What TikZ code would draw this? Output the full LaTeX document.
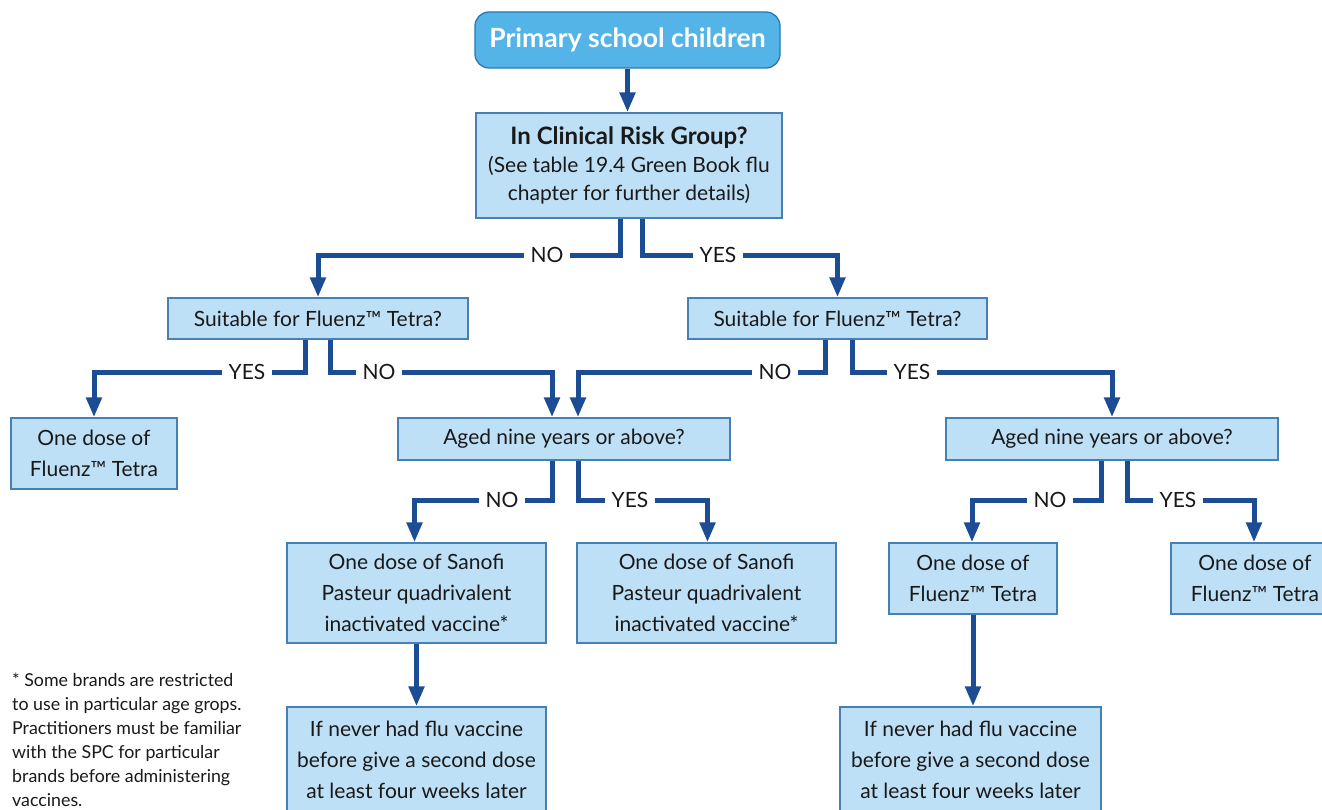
\documentclass[tikz,border=0pt]{standalone}
\usepackage{fontspec}
\setmainfont{Lato}
\usetikzlibrary{arrows.meta,calc}
\definecolor{topfill}{RGB}{84,180,232}
\definecolor{topdraw}{RGB}{40,120,180}
\definecolor{boxfill}{RGB}{190,224,247}
\definecolor{boxdraw}{RGB}{70,128,180}
\definecolor{arrcol}{RGB}{28,76,148}
\definecolor{txtcol}{RGB}{25,25,25}
\tikzset{
  box/.style={draw=boxdraw, fill=boxfill, line width=1.3pt, inner sep=0pt, align=center,
    text=txtcol, font=\fontsize{21}{31}\selectfont},
  topbox/.style={draw=topdraw, fill=topfill, line width=1.3pt, rounded corners=14pt, inner sep=0pt,
    align=center, text=white, font=\fontsize{26.5}{30}\selectfont\bfseries},
  arr/.style={draw=arrcol, line width=5pt, line join=miter, -{Triangle[length=20pt,width=15pt]}},
  lab/.style={fill=white, inner xsep=7pt, inner ysep=2pt, text=txtcol, font=\fontsize{21}{25}\selectfont},
  note/.style={align=left, inner sep=0pt, text=txtcol, font=\fontsize{17.8}{24}\selectfont}
}
\begin{document}
\begin{tikzpicture}[x=1pt,y=-1pt]
\useasboundingbox (0,0) rectangle (1322,810);
\clip (0,0) rectangle (1322,810);
% nodes
\node[topbox, minimum width=305pt, minimum height=56pt] (top) at (627.5,40) {Primary school children};
\node[box, minimum width=306pt, minimum height=105pt, font=\fontsize{21}{28}\selectfont] (crg) at (629,165.5)
  {{\fontsize{24}{28}\selectfont\bfseries In Clinical Risk Group?}\\(See table 19.4 Green Book flu\\chapter for further details)\rule[-4pt]{0pt}{1pt}};
\node[box, minimum width=300pt, minimum height=41pt] (suitL) at (318,318.5) {Suitable for Fluenz™ Tetra?};
\node[box, minimum width=299pt, minimum height=41pt] (suitR) at (837.5,318.5) {Suitable for Fluenz™ Tetra?};
\node[box, minimum width=166pt, minimum height=71pt] (oneL) at (94,453.5) {One dose of\\Fluenz™ Tetra};
\node[box, minimum width=332pt, minimum height=42pt] (agedL) at (564,439) {Aged nine years or above?};
\node[box, minimum width=332pt, minimum height=42pt] (agedR) at (1112,439) {Aged nine years or above?};
\node[box, minimum width=259pt, minimum height=100pt] (san1) at (416.5,593)
  {One dose of Sanofi\\Pasteur quadrivalent\\inactivated vaccine*};
\node[box, minimum width=259pt, minimum height=100pt] (san2) at (706.5,593)
  {One dose of Sanofi\\Pasteur quadrivalent\\inactivated vaccine*};
\node[box, minimum width=168pt, minimum height=71pt] (fluR1) at (973,578.5) {One dose of\\Fluenz™ Tetra};
\node[box, minimum width=168pt, minimum height=71pt] (fluR2) at (1255,578.5) {One dose of\\Fluenz™ Tetra};
\node[box, minimum width=259pt, minimum height=106pt] (nev1) at (416.5,760)
  {If never had flu vaccine\\before give a second dose\\at least four weeks later};
\node[box, minimum width=261pt, minimum height=106pt] (nev2) at (970.5,760)
  {If never had flu vaccine\\before give a second dose\\at least four weeks later};
\node[note, anchor=north west] (foot) at (12,673)
  {* Some brands are restricted\\to use in particular age grops.\\Practitioners must be familiar\\with the SPC for particular\\brands before administering\\vaccines.};
% connectors
\draw[arr] (top.south) -- (top.south |- crg.north);
\draw[arr] ([xshift=-9pt]crg.south) -- ++(0,37) -| (suitL.north);
\draw[arr] ([xshift=13pt]crg.south) -- ++(0,37) -| (suitR.north);
\draw[arr] ([xshift=-13pt]suitL.south) -- ++(0,33) -| (oneL.north);
\draw[arr] ([xshift=12pt]suitL.south) -- ++(0,33) -| ([xshift=-12pt]agedL.north);
\draw[arr] ([xshift=-12pt]suitR.south) -- ++(0,33) -| ([xshift=14pt]agedL.north);
\draw[arr] ([xshift=15pt]suitR.south) -- ++(0,33) -| (agedR.north);
\draw[arr] ([xshift=-12pt]agedL.south) -- ++(0,40) -| ([xshift=-2pt]san1.north);
\draw[arr] ([xshift=14pt]agedL.south) -- ++(0,40) -| ([xshift=1pt]san2.north);
\draw[arr] ([xshift=-11pt]agedR.south) -- ++(0,40) -| ([xshift=-1pt]fluR1.north);
\draw[arr] ([xshift=15pt]agedR.south) -- ++(0,40) -| ([xshift=-1pt]fluR2.north);
\draw[arr] (san1.south) -- (nev1.north);
\draw[arr] (fluR1.south) -- (fluR1.south |- nev2.north);
% labels
\node[lab] (l1) at (547,255) {NO};
\node[lab] (l2) at (718,255) {YES};
\node[lab] (l3) at (247,372) {YES};
\node[lab] (l4) at (379,372) {NO};
\node[lab] (l5) at (775,372) {NO};
\node[lab] (l6) at (912,372) {YES};
\node[lab] (l7) at (502,500) {NO};
\node[lab] (l8) at (630,500) {YES};
\node[lab] (l9) at (1050,500) {NO};
\node[lab] (l10) at (1178,500) {YES};
\end{tikzpicture}
\end{document}
